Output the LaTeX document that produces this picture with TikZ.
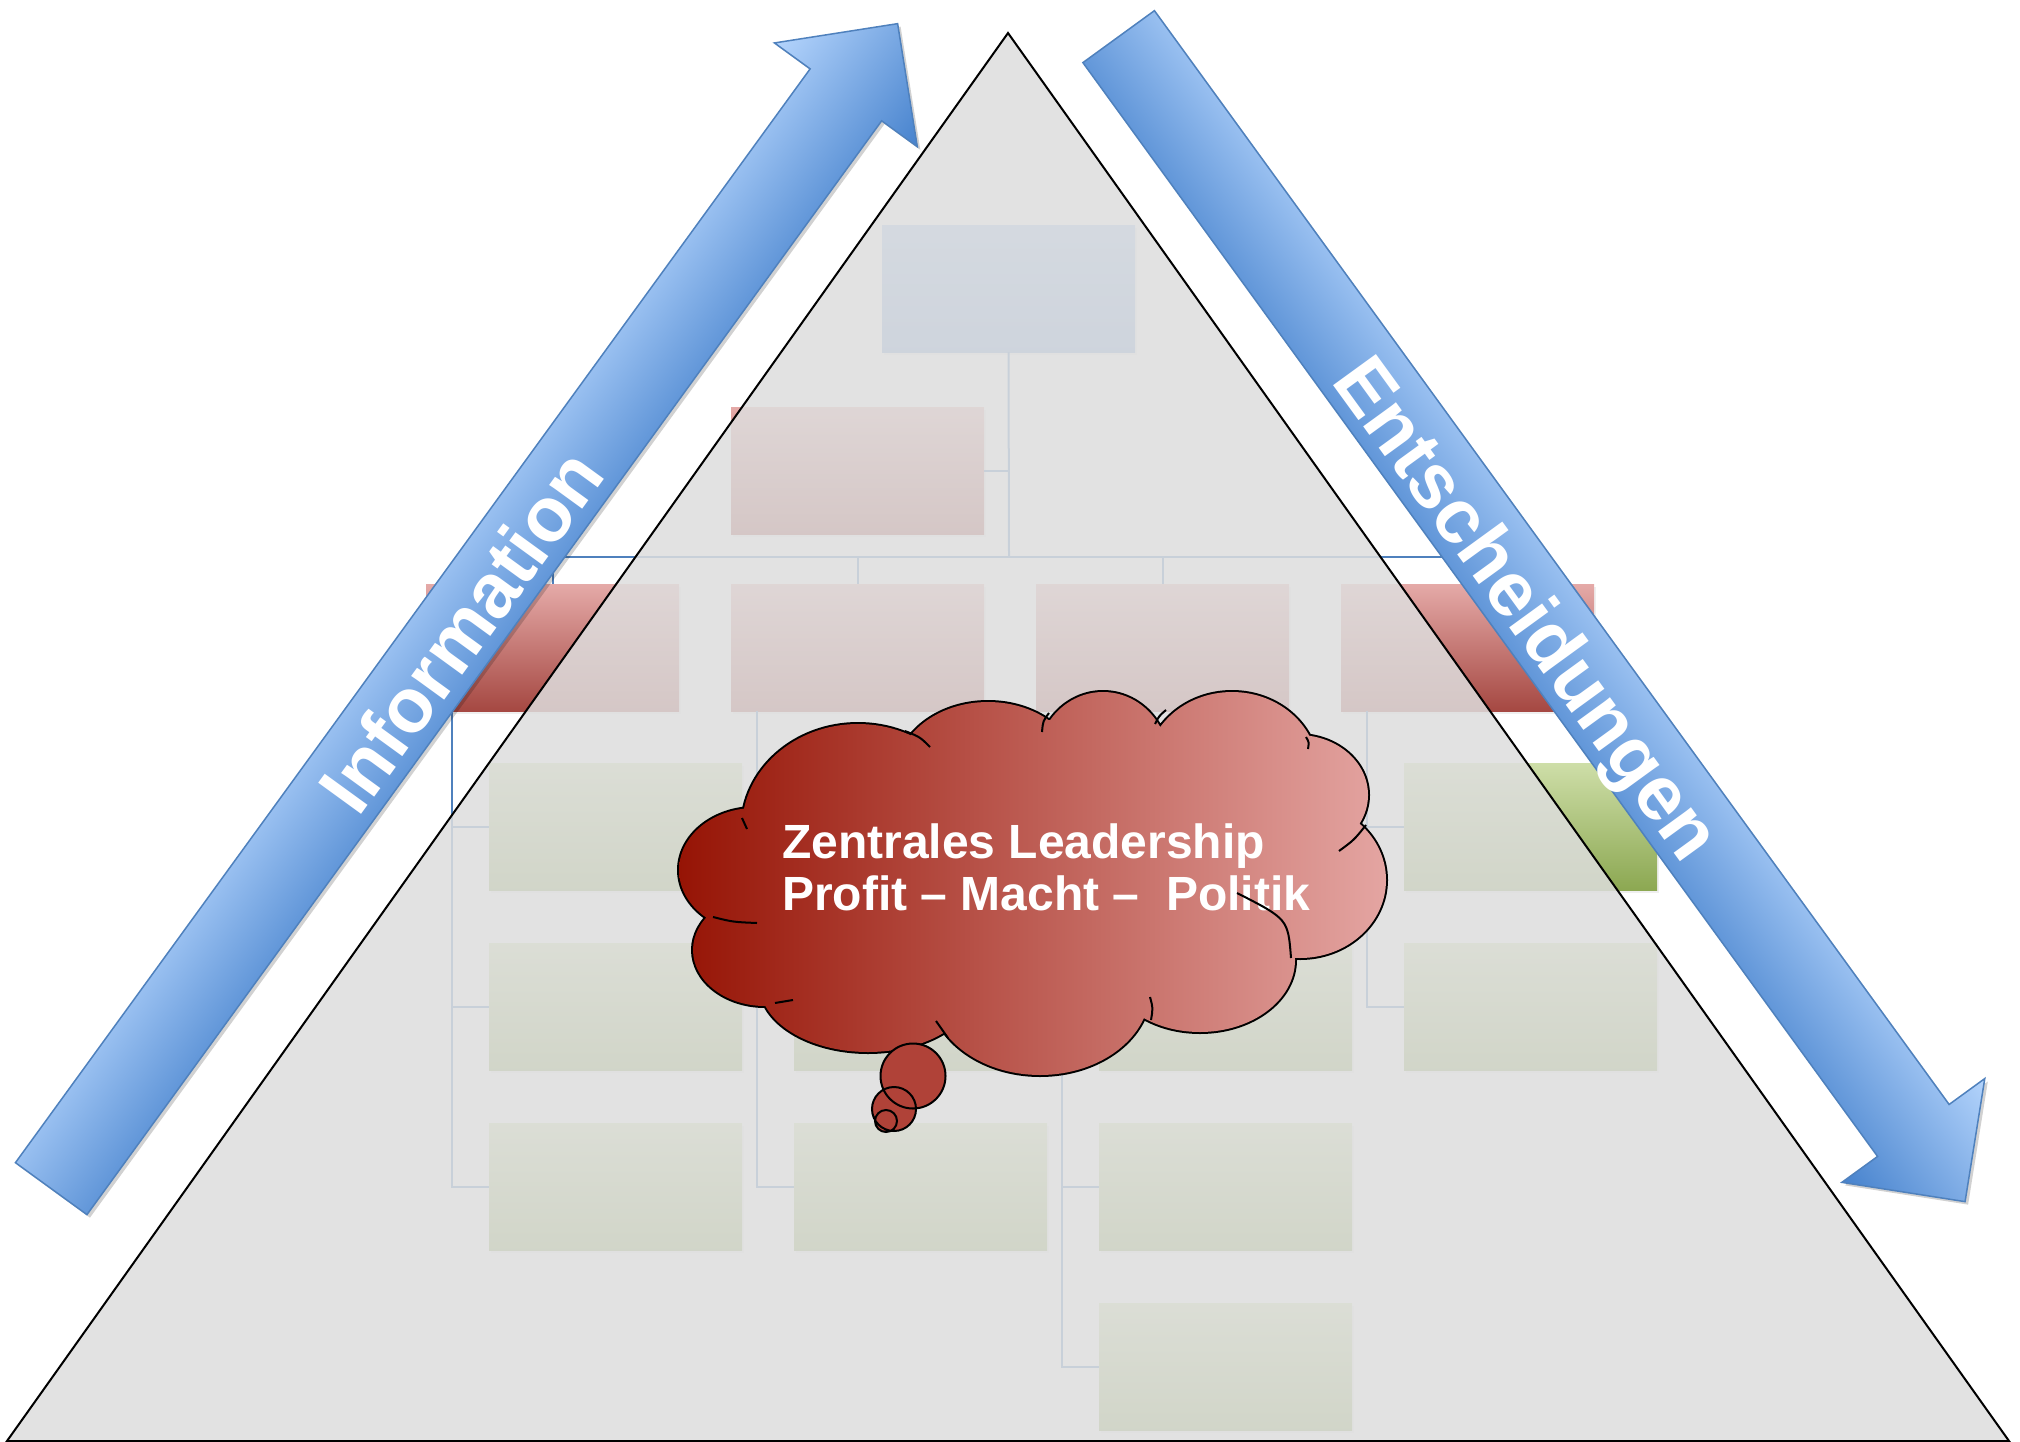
\documentclass[tikz,border=0pt]{standalone}
\usepackage{fontspec}
\setmainfont{Liberation Sans}
\usetikzlibrary{shadows}
\definecolor{redT}{RGB}{229,170,168}
\definecolor{redB}{RGB}{165,72,66}
\definecolor{grnT}{RGB}{206,222,168}
\definecolor{grnB}{RGB}{140,168,82}
\definecolor{bluT}{RGB}{160,195,240}
\definecolor{bluB}{RGB}{120,160,215}
\definecolor{connC}{RGB}{79,129,189}
\definecolor{triG}{RGB}{222,222,222}
\definecolor{arrL}{RGB}{180,212,252}
\definecolor{arrD}{RGB}{70,130,205}
\definecolor{arrO}{RGB}{79,129,189}
\definecolor{cloudL}{RGB}{150,20,5}
\definecolor{cloudR}{RGB}{228,165,162}
\definecolor{bubC}{RGB}{176,66,56}
\tikzset{
  orgbox/.style={minimum width=253, minimum height=127, anchor=north west, inner sep=0, outer sep=0,
    drop shadow={opacity=0.12, shadow xshift=2pt, shadow yshift=-3pt}},
  redbox/.style={orgbox, top color=redT, bottom color=redB},
  grnbox/.style={orgbox, top color=grnT, bottom color=grnB},
  blubox/.style={orgbox, top color=bluT, bottom color=bluB},
  conn/.style={draw=connC, line width=2},
  arrowbody/.style={draw=arrO, line width=1.5, line join=miter, top color=arrL, bottom color=arrD},
  arrowshadow/.style={fill=black, opacity=0.18},
  arrtext/.style={text=white, font=\fontsize{77}{80}\selectfont\bfseries, inner sep=0, anchor=base},
  cloudtext/.style={text=white, font=\fontsize{48}{52}\selectfont\bfseries, inner sep=0, anchor=base west},
  puffline/.style={draw=black, line width=4},
  curl/.style={draw=black, line width=2},
}
\begin{document}
\begin{tikzpicture}[x=1pt, y=-1pt]
\useasboundingbox (0,0) rectangle (2020,1442);
\fill[white] (0,0) rectangle (2020,1442);

% ---------------- org chart ----------------
\node[blubox] (top) at (882,225) {};
\node[redbox] (asst) at (731,407) {};
\node[redbox] (d1) at (426,584) {};
\node[redbox] (d2) at (731,584) {};
\node[redbox] (d3) at (1036,584) {};
\node[redbox] (d4) at (1341,584) {};
\foreach \k in {1,2,3} \node[grnbox] (s1-\k) at (489,763+180*\k-180) {};
\foreach \k in {1,2,3} \node[grnbox] (s2-\k) at (794,763+180*\k-180) {};
\foreach \k in {1,2,3,4} \node[grnbox] (s3-\k) at (1099,763+180*\k-180) {};
\foreach \k in {1,2} \node[grnbox] (s4-\k) at (1404,763+180*\k-180) {};

\coordinate (hub) at (1009,557);
\draw[conn] (top.south) -- (hub);
\draw[conn] (asst.east) -- (asst.east -| hub);
\draw[conn] (d1.north |- hub) -- (d4.north |- hub);
\foreach \d in {1,2,3,4} \draw[conn] (d\d.north |- hub) -- (d\d.north);
\foreach \k in {1,2,3} \draw[conn] ([xshift=26pt]d1.south west) |- (s1-\k.west);
\foreach \k in {1,2,3} \draw[conn] ([xshift=26pt]d2.south west) |- (s2-\k.west);
\foreach \k in {1,2,3,4} \draw[conn] ([xshift=26pt]d3.south west) |- (s3-\k.west);
\foreach \k in {1,2} \draw[conn] ([xshift=26pt]d4.south west) |- (s4-\k.west);

% ---------------- triangle ----------------
\coordinate (apex) at (1008,33);
\coordinate (bl) at (7,1441);
\coordinate (br) at (2009,1441);
\fill[triG, fill opacity=0.85] (apex) -- (bl) -- (br) -- cycle;
\draw[black, line width=2, line join=miter] (apex) -- (bl) -- (br) -- cycle;

% ---------------- arrows ----------------
\begin{scope}[transform canvas={shift={(51.2,1188.65)}, rotate=54}]
\begin{scope}[y=1pt]
  \fill[arrowshadow, shift={(-0.7,-4.2)}] (0,44.2) -- (1352,44.2) -- (1352,88.3) -- (1440,0) -- (1352,-88.3) -- (1352,-44.2) -- (0,-44.2) -- cycle;
  \path[arrowbody] (0,44.2) -- (1352,44.2) -- (1352,88.3) -- (1440,0) -- (1352,-88.3) -- (1352,-44.2) -- (0,-44.2) -- cycle;
  \node[arrtext] (info) at (692,-31) {Information};
\end{scope}
\end{scope}
\begin{scope}[transform canvas={shift={(1118.65,36.65)}, rotate=-54}]
\begin{scope}[y=1pt]
  \fill[arrowshadow, shift={(4.2,0.7)}] (0,44.2) -- (1352,44.2) -- (1352,88.3) -- (1440,0) -- (1352,-88.3) -- (1352,-44.2) -- (0,-44.2) -- cycle;
  \path[arrowbody] (0,44.2) -- (1352,44.2) -- (1352,88.3) -- (1440,0) -- (1352,-88.3) -- (1352,-44.2) -- (0,-44.2) -- cycle;
  \node[arrtext] (ent) at (703,-31) {Entscheidungen};
\end{scope}
\end{scope}

% ---------------- cloud ----------------
\draw[puffline]
  (858,828) ellipse [x radius=116, y radius=104]
  (988,775) ellipse [x radius=92, y radius=73]
  (1103,762) ellipse [x radius=66, y radius=70]
  (1232,770) ellipse [x radius=86, y radius=78]
  (1298,795) ellipse [x radius=70, y radius=60]
  (1300,880) ellipse [x radius=86, y radius=78]
  (1200,960) ellipse [x radius=95, y radius=72]
  (1040,990) ellipse [x radius=110, y radius=85]
  (868,985) ellipse [x radius=108, y radius=67]
  (765,950) ellipse [x radius=72, y radius=56]
  (755,870) ellipse [x radius=76, y radius=62];
\shade[left color=cloudL, right color=cloudR]
  (858,828) ellipse [x radius=116, y radius=104]
  (988,775) ellipse [x radius=92, y radius=73]
  (1103,762) ellipse [x radius=66, y radius=70]
  (1232,770) ellipse [x radius=86, y radius=78]
  (1298,795) ellipse [x radius=70, y radius=60]
  (1300,880) ellipse [x radius=86, y radius=78]
  (1200,960) ellipse [x radius=95, y radius=72]
  (1040,990) ellipse [x radius=110, y radius=85]
  (868,985) ellipse [x radius=108, y radius=67]
  (765,950) ellipse [x radius=72, y radius=56]
  (755,870) ellipse [x radius=76, y radius=62]
  (1040,870) ellipse [x radius=270, y radius=150];

% thought bubbles
\coordinate (b1) at (913,1076);
\coordinate (b2) at (894,1109);
\coordinate (b3) at (886,1121);
\fill[bubC] (b1) circle [radius=32.5] (b2) circle [radius=22] (b3) circle [radius=11];
\draw[curl] (b1) circle [radius=32.5] (b2) circle [radius=22] (b3) circle [radius=11];

% text
\node[cloudtext] (t1) at (782,858) {Zentrales Leadership};
\node[cloudtext] (t2) at (782,910) {Profit – Macht –\ \ Politik};

% inner curls of the cloud outline
\draw[curl] (905,731) .. controls (920,737) .. (930,747);
\draw[curl] (1049,713) .. controls (1043,721) .. (1042,732);
\draw[curl] (1166,710) .. controls (1159,716) .. (1155,724);
\draw[curl] (1306,737) .. controls (1309,742) .. (1308,749);
\draw[curl] (1366,825) .. controls (1354,840) .. (1339,851);
\draw[curl] (1237,893) .. controls (1288,919) .. (1291,958);
\draw[curl] (1150,997) .. controls (1153,1008) .. (1151,1020);
\draw[curl] (936,1021) .. controls (942,1030) .. (948,1038);
\draw[curl] (775,1003) .. controls (784,1002) .. (793,1000);
\draw[curl] (713,917) .. controls (733,922) .. (757,923);
\draw[curl] (742,818) .. controls (745,823) .. (747,829);
\end{tikzpicture}
\end{document}
